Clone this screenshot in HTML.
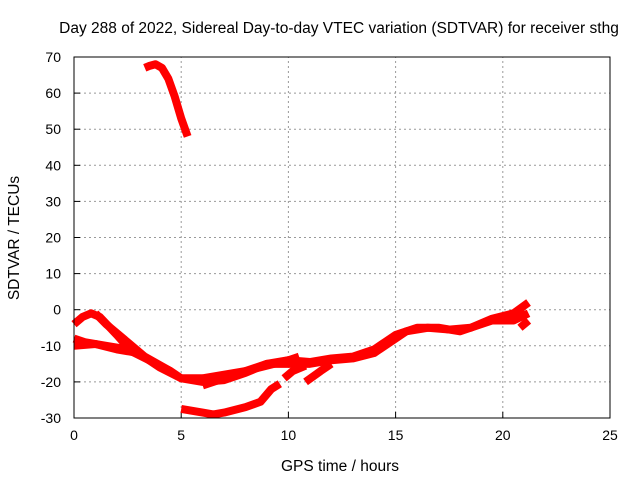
<!DOCTYPE html>
<html><head><meta charset="utf-8"><style>
body{margin:0;background:#fff}
svg{display:block;font-family:"Liberation Sans",sans-serif}
</style></head><body>
<svg id="c" width="640" height="480">
<rect width="640" height="480" fill="#fff"/>
<text x="339" y="33" font-size="15.5" text-anchor="middle">Day 288 of 2022, Sidereal Day-to-day VTEC variation (SDTVAR) for receiver sthg</text>
<text x="340" y="471" font-size="15.5" text-anchor="middle">GPS time / hours</text>
<text transform="translate(19,238) rotate(-90)" font-size="15.5" text-anchor="middle">SDTVAR / TECUs</text>
<g id="grid"></g><g id="series"></g>
<rect x="74" y="57" width="536" height="361" fill="none" stroke="#000" stroke-width="1"/>
</svg>
<script>
const xTicks=[0,5,10,15,20,25];
const yTicks=[-30,-20,-10,0,10,20,30,40,50,60,70];
const seriesA=[[3.3,67],[3.5,67.5],[3.8,68],[4.1,67],[4.4,64],[4.7,59],[5.0,53],[5.3,48]];
const seriesB=[[0,-8],[0.5,-9],[1.5,-10],[2.5,-11],[3.5,-14],[4.5,-17],[5,-19],[6,-19],[7,-18],[8,-17],[9,-15],[10,-15],[11,-15],[12,-14],[13,-13.5],[14,-12],[15,-8],[15.5,-6],[16.5,-5],[17.5,-5.5],[18.5,-5],[19.5,-2.5],[20.5,-1],[21.2,2]];
const seriesC=[[0,-10],[1,-9.5],[2,-11],[3,-12],[4,-16],[5,-19],[6,-20],[7,-19.5],[8,-17.5],[9,-15],[10,-14],[11,-14.5],[12,-13.5],[13,-13],[14,-11],[15,-7],[16,-5],[17,-5],[18,-6],[19,-4],[20,-2],[21,0]];
const seriesD=[[0,-4],[0.4,-2],[0.8,-1],[1.2,-2],[2,-7],[2.6,-11],[3,-12]];
const seriesE=[[1,-1],[1.5,-4],[2.5,-9],[3.3,-13],[4.5,-17]];
const seriesF=[[5,-27.5],[6,-28.5],[6.5,-29],[7,-28.5],[8,-27],[8.7,-25.5],[9.2,-22],[9.6,-20.5]];
const seriesG=[[6,-21],[7,-19],[8,-17],[9,-15.5],[10,-14],[10.5,-13]];
const seriesH=[[9.8,-19],[10.2,-17],[10.8,-15.5]];
const seriesI=[[10.8,-20],[11.5,-17],[12,-15]];
const seriesJ=[[19.5,-3],[20.5,-3],[21.2,-1]];
const seriesK=[[20.8,-5],[21.2,-3]];
const allSeries=[seriesA,seriesB,seriesC,seriesD,seriesE,seriesF,seriesG,seriesH,seriesI,seriesJ,seriesK];
const X0=74,X1=610,Y0=418,Y1=57,xmin=0,xmax=25,ymin=-30,ymax=70;
const sx=v=>X0+(v-xmin)/(xmax-xmin)*(X1-X0);
const sy=v=>Y0-(v-ymin)/(ymax-ymin)*(Y0-Y1);
const NS="http://www.w3.org/2000/svg";
const grid=document.getElementById('grid'),ser=document.getElementById('series');
function mk(t,a,p){const e=document.createElementNS(NS,t);for(const k in a)e.setAttribute(k,a[k]);p.appendChild(e);return e;}
xTicks.forEach(t=>{const x=sx(t);
 if(t>xmin&&t<xmax){const l=mk('line',{x1:x,x2:x,y1:Y0,y2:Y1,stroke:'#999','stroke-dasharray':'2,3'},grid);
 
 }
 const tk=mk('line',{x1:x,x2:x,y1:Y0,y2:Y0-6,stroke:'#000'},grid);
 
 
 const tx=mk('text',{x:x,y:Y0+22,'font-size':14,'text-anchor':'middle'},grid);tx.textContent=t;
 
 });
yTicks.forEach(t=>{const y=sy(t);
 if(t>ymin&&t<ymax){const l=mk('line',{x1:X0,x2:X1,y1:y,y2:y,stroke:'#999','stroke-dasharray':'2,3'},grid);
 
 }
 const tk=mk('line',{x1:X0,x2:X0+6,y1:y,y2:y,stroke:'#000'},grid);
 
 
 const tx=mk('text',{x:X0-13,y:y+5,'font-size':14,'text-anchor':'end'},grid);tx.textContent=t;
 
 });
allSeries.forEach(s=>{const pts=s.map(p=>sx(p[0])+','+sy(p[1])).join(' ');
 const pl=mk('polyline',{points:pts,fill:'none',stroke:'#f00','stroke-width':8,'stroke-linejoin':'round','stroke-linecap':'butt'},ser);
 
 });
</script>
</body></html>
